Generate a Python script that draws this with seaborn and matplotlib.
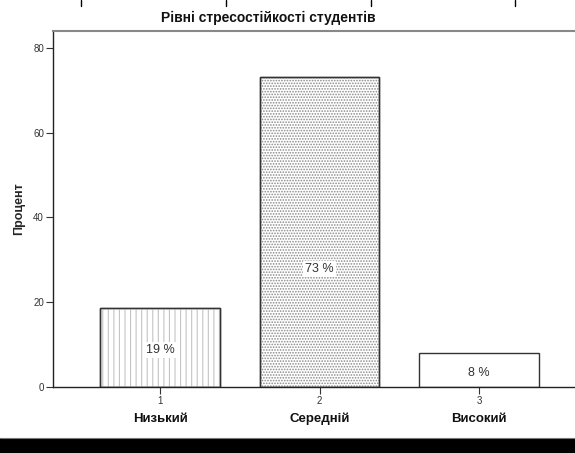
import matplotlib
matplotlib.use("Agg")
import matplotlib.pyplot as plt
import matplotlib.transforms as mtransforms
import seaborn as sns
import pandas as pd
from matplotlib.lines import Line2D
from matplotlib.patches import Rectangle

categories = ["Низький", "Середній", "Високий"]
codes = ["1", "2", "3"]
percent = [18.7, 73.2, 8.0]
bar_labels = ["19 %", "73 %", "8 %"]
label_y = [8.7, 27.8, 3.3]
y_ticks = [0, 20, 40, 60, 80]

sns.set_theme(style="white")
plt.rcParams["font.family"] = ["Liberation Sans", "DejaVu Sans"]
plt.rcParams["hatch.linewidth"] = 0.8

df = pd.DataFrame({"code": codes, "percent": percent})

fig = plt.figure(figsize=(5.75, 4.53), dpi=100)
ax = fig.add_axes([53 / 575, 1 - 387 / 453, 1 - 53 / 575, (387 - 31) / 453])

sns.barplot(data=df, x="code", y="percent", order=codes, ax=ax,
            width=0.75, color="white", edgecolor="#333333", linewidth=1.0,
            errorbar=None)

hatches = ["|||", "......", ""]
hcolors = ["#c4c4c4", "#8a8a8a", "#333333"]
bars = list(ax.patches)
for patch, h, hc in zip(bars, hatches, hcolors):
    patch.set_facecolor("white")
    patch.set_zorder(1)
    if h:
        r = Rectangle(patch.get_xy(), patch.get_width(), patch.get_height(),
                      facecolor="none", edgecolor=hc, hatch=h, linewidth=0, zorder=1.5)
        ax.add_patch(r)
        edge = Rectangle(patch.get_xy(), patch.get_width(), patch.get_height(),
                         facecolor="none", edgecolor="#333333", linewidth=1.0, zorder=2)
        ax.add_patch(edge)

for i, (lab, ly) in enumerate(zip(bar_labels, label_y)):
    ax.text(i, ly, lab, ha="center", va="center", fontsize=9, color="#333333",
            zorder=5, bbox=dict(facecolor="white", edgecolor="none", pad=1.5))

ax.set_xlim(-0.671, 2.602)
ax.set_ylim(0, 84)
ax.set_yticks(y_ticks)
ax.set_yticklabels([str(t) for t in y_ticks], fontsize=7, color="#333333")
ax.set_xticks(range(len(codes)))
ax.set_xticklabels(codes, fontsize=7, color="#333333")
ax.tick_params(axis="both", direction="out", length=5, width=0.8, color="#333333",
               bottom=True, left=True, pad=1.5)
ax.set_xlabel("")
ax.set_ylabel("Процент", fontsize=9, fontweight="bold", labelpad=6)

for s in ["left", "bottom"]:
    ax.spines[s].set_color("#222222")
    ax.spines[s].set_linewidth(1.0)
ax.spines["top"].set_color("#888888")
ax.spines["top"].set_linewidth(1.5)
ax.spines["right"].set_visible(False)

trans = mtransforms.blended_transform_factory(ax.transData, fig.transFigure)
for i, c in enumerate(categories):
    ax.text(i, 1 - 419 / 453, c, transform=trans, ha="center", va="center",
            fontsize=9.5, fontweight="bold", color="#111111")

fig.text(268 / 575, 1 - 18 / 453, "Рівні стресостійкості студентів",
         ha="center", va="center", fontsize=10, fontweight="bold", color="#111111")

# top strip ticks (cropped table edge)
for xp in [81, 226, 371, 515]:
    fig.add_artist(Line2D([xp / 575, xp / 575], [1.0, 1 - 6 / 453],
                          color="black", linewidth=1.0))

# bottom black band
fig.add_artist(Rectangle((0, 0), 1, 15.5 / 453, transform=fig.transFigure,
                         facecolor="black", edgecolor="none"))
fig.add_artist(Line2D([0, 1], [15.5 / 453, 15.5 / 453], color="#777777", linewidth=0.8))

fig.savefig("out.png", dpi=100, facecolor="white")
